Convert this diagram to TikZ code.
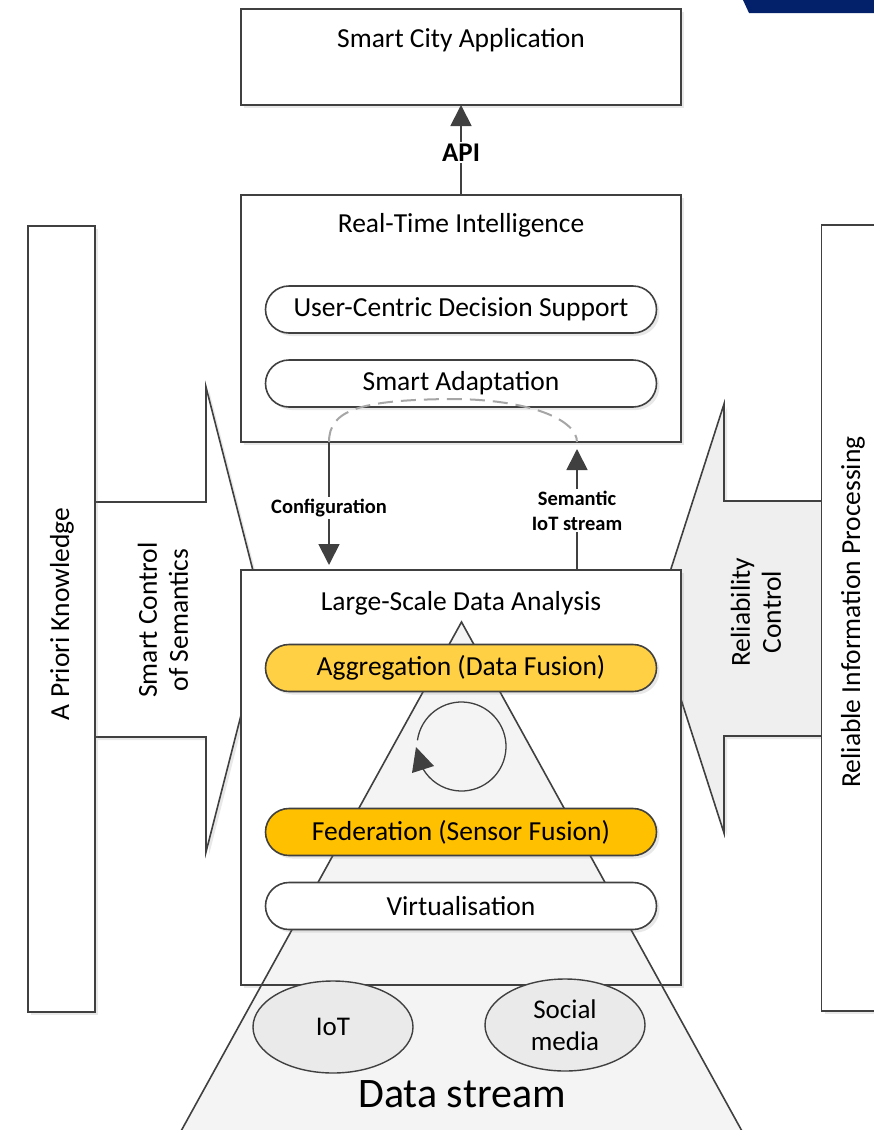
\documentclass[tikz,border=0pt]{standalone}
\usepackage{fontspec}
\setmainfont{Carlito}
\usetikzlibrary{shapes.misc,shapes.geometric,shadows,arrows.meta,calc}
\definecolor{ln}{HTML}{404040}
\definecolor{dash}{HTML}{A6A6A6}
\definecolor{goldA}{HTML}{FFD044}
\definecolor{goldB}{HTML}{FFC000}
\definecolor{stream}{HTML}{F4F4F4}
\definecolor{source}{HTML}{EAEAEA}
\definecolor{relarrow}{HTML}{EFEFEF}
\definecolor{navy}{HTML}{03216A}
\newcommand\fsz[2]{\fontsize{#1}{#2}\selectfont}
\begin{document}
\begin{tikzpicture}[x=1pt,y=-1pt,
  softshadow/.style={drop shadow={opacity=0.18,shadow xshift=3pt,shadow yshift=-3pt}},
  panel/.style={draw=ln,line width=1.6pt,fill=white,inner sep=0pt,outer sep=0pt,softshadow},
  sidebar/.style={panel,minimum width=67pt,minimum height=786pt},
  layer/.style={panel,minimum width=440pt},
  pill/.style={rounded rectangle,draw=ln,line width=1.6pt,fill=white,minimum width=391pt,
    minimum height=47pt,inner sep=0pt,outer sep=0pt,font=\fsz{27.5}{31},softshadow},
  title/.style={font=\fsz{27.5}{31},inner sep=0pt},
  sidetext/.style={font=\fsz{27.5}{31},align=center,rotate=90,inner sep=0pt},
  flow/.style={draw=ln,line width=1.8pt,-{Triangle[length=21pt,width=21pt]}},
  flowlabel/.style={font=\bfseries\fsz{20.5}{25},fill=white,align=center,inner sep=2pt},
  bigarrow/.style={draw=ln,line width=1.6pt,line join=miter,softshadow},
  source/.style={ellipse,draw=ln,line width=1.4pt,fill=source,minimum width=160pt,
    minimum height=92pt,inner sep=0pt,font=\fsz{27}{32},align=center}]

\useasboundingbox (0,0) rectangle (874,1130);
\clip (0,0) rectangle (874,1130);

% corner band
\fill[navy] (743,0) -- (874,0) -- (874,13) -- (749,13) -- cycle;

% knowledge feeds on the two sides
\draw[bigarrow,fill=white] (95,502) -- (206,502) -- (206,387) -- (265.5,619.5)
  -- (206,852) -- (206,737) -- (95,737) -- cycle;
\draw[bigarrow,fill=relarrow] (822,501) -- (724,501) -- (724,404) -- (655,618.5)
  -- (724,833) -- (724,736) -- (822,736) -- cycle;
\node[sidetext] (ctrlsem) at (163,620) {Smart Control\\of Semantics};
\node[sidetext] (ctrlrel) at (756,612) {Reliability\\Control};

\node[sidebar] (apk) at (61.5,619) {};
\node[sidetext] (apktext) at (62,614) {A Priori Knowledge};
\node[sidebar] (rip) at (855,618) {};
\node[sidetext] (riptext) at (853,612) {Reliable Information Processing};

% application layer
\node[layer,minimum height=96pt] (sca) at (461,57) {};
\node[title] (scatext) at (461,40) {Smart City Application};

% real-time intelligence layer
\node[layer,minimum height=247pt] (rti) at (461,318.5) {};
\node[title] (rtitext) at (461,225) {Real-Time Intelligence};
\node[pill] (ucds) at (461,309.5) {User-Centric Decision Support};
\node[pill] (adapt) at (461,383.5) {Smart Adaptation};

% data analysis layer
\node[layer,minimum height=415pt] (lsda) at (461,777.5) {};
\node[title] (lsdatext) at (461,603) {Large-Scale Data Analysis};

% data stream pyramid
\coordinate (apex) at (461.5,622);
\draw[draw=ln,line width=1.6pt,fill=stream] (apex) -- (169.5,1152) -- (753.5,1152) -- cycle;
\draw[draw=ln,line width=1.6pt] (lsda.north west) rectangle (lsda.south east);

\node[pill,fill=goldA] (agg) at (461,668) {Aggregation (Data Fusion)};
\node[pill,fill=goldB] (fed) at (461,832) {Federation (Sensor Fusion)};
\node[pill] (virt) at (461,906) {Virtualisation};

% fusion cycle
\coordinate (cyc) at (461.5,746.5);
\draw[draw=ln,line width=1.3pt] ($(cyc)+(-172:44.5)$) arc[start angle=-172,end angle=150,radius=44.5];
\fill[ln] (416,747) -- (412,773) -- (434,766) -- cycle;

\node[source] (iot) at (333,1027) {IoT};
\node[source] (social) at (565,1025) {Social\\media};
\node[font=\fsz{42}{46},inner sep=0pt] (stream) at (462,1094) {Data stream};

% connectors between layers
\draw[flow] (rti.north) -- node[flowlabel,pos=0.47] (api) {\fsz{27}{30}API} (sca.south);
\coordinate (cfgtop) at (rti.south -| 329,0);
\coordinate (cfgbot) at (lsda.north -| 329,0);
\coordinate (semtop) at (rti.south -| 577,0);
\coordinate (sembot) at (lsda.north -| 577,0);
\draw[flow] (cfgtop) -- node[flowlabel,pos=0.54] (cfg) {Configuration} ([yshift=5pt]cfgbot);
\draw[flow] (sembot) -- node[flowlabel,pos=0.49] (sem) {Semantic\\IoT stream} ([yshift=-7pt]semtop);
\draw[draw=dash,line width=2pt,dash pattern=on 15pt off 8pt]
  (cfgtop) .. controls (329,410) and (360,400) .. (450,399)
  .. controls (530,399) and (577,420) .. (semtop);

\end{tikzpicture}
\end{document}
